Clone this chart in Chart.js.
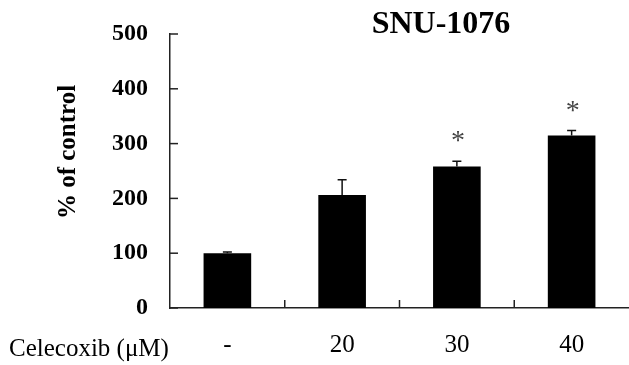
<!DOCTYPE html>
<html>
<head>
<meta charset="utf-8">
<script src="https://cdn.jsdelivr.net/npm/chart.js@4/dist/chart.umd.min.js"></script>
<style>
  html, body { margin: 0; padding: 0; background: #fff; }
  #wrap { width: 629px; height: 365px; }
</style>
</head>
<body>
<div id="wrap"><canvas id="chart"></canvas></div>
<script>
// данные
const doses = ["-", "20", "30", "40"];
const percentControl = [100, 206, 258, 315];
const errorUp = [2, 28, 10, 9];
const marks = ["", "", "*", "*"];
const yTicks = [0, 100, 200, 300, 400, 500];

const SERIF = "'Liberation Serif', 'Times New Roman', serif";

// усы ошибок, звёздочки, внутренние засечки и подписи
const decorPlugin = {
  id: "decor",
  afterDatasetsDraw(chart) {
    const ctx = chart.ctx;
    const ys = chart.scales.y;
    const meta = chart.getDatasetMeta(0);
    const area = chart.chartArea;

    ctx.save();
    ctx.strokeStyle = "#111";
    ctx.lineWidth = 1.5;

    // усы (только вверх)
    meta.data.forEach((bar, i) => {
      const top = ys.getPixelForValue(percentControl[i] + errorUp[i]);
      ctx.beginPath();
      ctx.moveTo(bar.x, bar.y);
      ctx.lineTo(bar.x, top);
      ctx.moveTo(bar.x - 4.5, top);
      ctx.lineTo(bar.x + 4.5, top);
      ctx.stroke();
    });

    // засечки оси Y внутрь
    ctx.strokeStyle = "#222";
    yTicks.forEach(v => {
      const py = ys.getPixelForValue(v);
      ctx.beginPath();
      ctx.moveTo(area.left, py);
      ctx.lineTo(area.left + 8, py);
      ctx.stroke();
    });

    // засечки между категориями
    for (let i = 0; i < meta.data.length - 1; i++) {
      const px = (meta.data[i].x + meta.data[i + 1].x) / 2;
      ctx.beginPath();
      ctx.moveTo(px, area.bottom);
      ctx.lineTo(px, area.bottom - 8);
      ctx.stroke();
    }

    // звёздочки
    ctx.fillStyle = "#444";
    ctx.font = "28px " + SERIF;
    ctx.textAlign = "center";
    ctx.textBaseline = "middle";
    meta.data.forEach((bar, i) => {
      if (!marks[i]) return;
      const top = ys.getPixelForValue(percentControl[i] + errorUp[i]);
      ctx.fillText(marks[i], bar.x + 1, top - 19);
    });

    // заголовок
    ctx.fillStyle = "#000";
    ctx.font = "bold 32px " + SERIF;
    ctx.textBaseline = "alphabetic";
    ctx.fillText("SNU-1076", 441, 33);

    // подпись оси Y
    ctx.save();
    ctx.translate(75, 152);
    ctx.rotate(-Math.PI / 2);
    ctx.font = "bold 25px " + SERIF;
    ctx.fillText("% of control", 0, 0);
    ctx.restore();

    // подпись оси X
    ctx.font = "25px " + SERIF;
    ctx.textAlign = "left";
    ctx.fillText("Celecoxib (\u03bcM)", 9, 356);

    ctx.restore();
  }
};

new Chart(document.getElementById("chart"), {
  type: "bar",
  data: {
    labels: doses,
    datasets: [{
      data: percentControl,
      backgroundColor: "#000",
      borderWidth: 0,
      barPercentage: 0.415,
      categoryPercentage: 1
    }]
  },
  options: {
    responsive: true,
    maintainAspectRatio: false,
    animation: false,
    layout: { padding: { left: 0, top: 34, right: -4, bottom: 0 } },
    plugins: {
      legend: { display: false },
      tooltip: { enabled: false }
    },
    scales: {
      x: {
        grid: { display: false, drawTicks: false },
        border: { display: true, color: "#222", width: 1.5 },
        ticks: {
          color: "#000",
          padding: 22,
          font: { family: SERIF, size: 25 }
        },
        afterFit: s => { s.height = 57; }
      },
      y: {
        min: 0,
        max: 500,
        grid: { display: false, drawTicks: false },
        border: { display: true, color: "#222", width: 1.5 },
        ticks: {
          stepSize: 100,
          color: "#000",
          padding: 22,
          font: { family: SERIF, size: 24, weight: "bold", lineHeight: 1 }
        },
        afterFit: s => { s.width = 170; }
      }
    }
  },
  plugins: [decorPlugin]
});
</script>
</body>
</html>
